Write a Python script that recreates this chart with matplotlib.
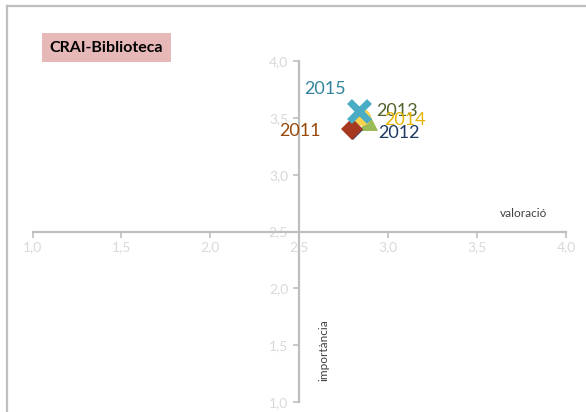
import matplotlib
matplotlib.use("Agg")
import matplotlib.pyplot as plt
from matplotlib.lines import Line2D

plt.rcParams['font.family'] = ['Lato', 'DejaVu Sans']

# data: (valoració, importància) per year
years = ['2011', '2012', '2013', '2014', '2015']
valoracio = [2.795, 2.805, 2.89, 2.855, 2.835]
importancia = [3.40, 3.39, 3.46, 3.51, 3.56]

markers = ['D', 'D', '^', 'o', 'x']
msizes = [11, 10, 13, 12, 14]
mcolors = ['#A5381F', '#1F497D', '#9BBB59', '#FCD34D', '#4BACC6']
lcolors = ['#984807', '#1F3864', '#4F6228', '#E6B400', '#31849B']
zorders = [5, 4, 3, 4.5, 6]
# label offsets in pixels (dx, dy, ha)
offsets = [(-31, -2, 'right'), (25, -3, 'left'), (8, 11, 'left'), (22, -3, 'left'), (-55, 22, 'left')]

fig = plt.figure(figsize=(5.86, 4.12), dpi=100)
ax = fig.add_axes([32.5 / 586, 10 / 412, 533.5 / 586, 341 / 412])

for i in range(len(years)):
    if markers[i] == 'x':
        ax.plot(valoracio[i], importancia[i], marker='x', ms=msizes[i], mew=5,
                color=mcolors[i], ls='none', zorder=zorders[i])
    else:
        ax.plot(valoracio[i], importancia[i], marker=markers[i], ms=msizes[i], mew=0,
                color=mcolors[i], ls='none', zorder=zorders[i])
    dx, dy, ha = offsets[i]
    ax.annotate(years[i], (valoracio[i], importancia[i]), xytext=(dx, dy),
                textcoords='offset pixels', ha=ha, va='center', fontsize=13,
                color=lcolors[i], zorder=7)

ax.set_xlim(1, 4)
ax.set_ylim(1, 4)
ax.set_xticks([1.0, 1.5, 2.0, 2.5, 3.0, 3.5, 4.0])
ax.set_yticks([1.0, 1.5, 2.0, 2.5, 3.0, 3.5, 4.0])
ax.set_xticklabels(['1,0', '1,5', '2,0', '2,5', '3,0', '3,5', '4,0'])
ax.set_yticklabels(['1,0', '1,5', '2,0', '2,5', '3,0', '3,5', '4,0'])

ax.spines['left'].set_position(('data', 2.5))
ax.spines['bottom'].set_position(('data', 2.5))
ax.spines['top'].set_visible(False)
ax.spines['right'].set_visible(False)
for s in ['left', 'bottom']:
    ax.spines[s].set_color('#BFBFBF')
    ax.spines[s].set_linewidth(1.6)
ax.tick_params(colors='#BFBFBF', labelcolor='#D9D9D9', labelsize=10, length=4, width=1.2)
ax.tick_params(axis='x', pad=3)
ax.tick_params(axis='y', pad=4)
ax.patch.set_visible(False)

ax.text(3.76, 2.66, 'valoració', fontsize=8.5, color='#404040', ha='center', va='center')
ax.text(2.64, 1.46, 'importància', fontsize=8.5, color='#404040', ha='center', va='center',
        rotation=90)

# chart frame
fig.add_artist(Line2D([7 / 586, 7 / 586], [0, 1 - 6 / 412], color='#BFBFBF', lw=1.6))
fig.add_artist(Line2D([7 / 586, 1], [1 - 6 / 412, 1 - 6 / 412], color='#BFBFBF', lw=1.6))

fig.text(106.5 / 586, 1 - 47.5 / 412, 'CRAI-Biblioteca', fontsize=11.5, fontweight='bold',
         color='black', ha='center', va='center',
         bbox=dict(boxstyle='square,pad=0.5', fc='#E6B9B8', ec='none'))

fig.savefig('out.png', dpi=100)
